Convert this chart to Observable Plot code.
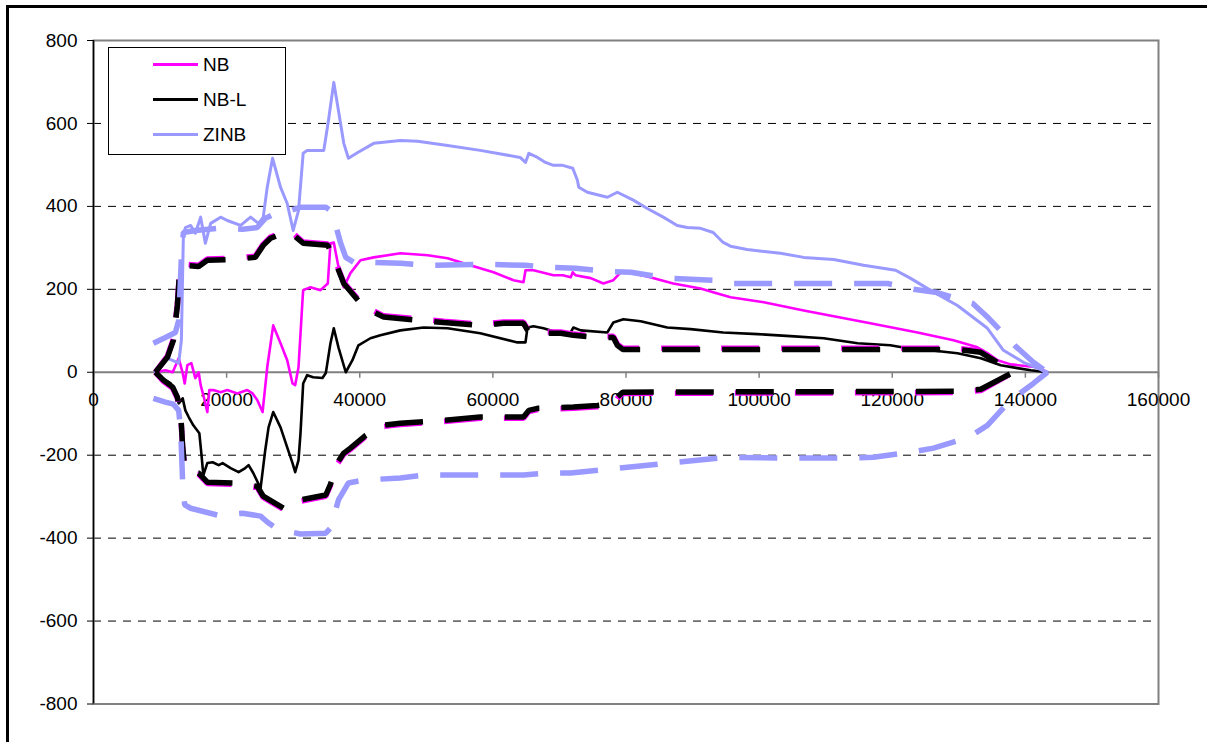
<!DOCTYPE html>
<html><head><meta charset="utf-8">
<script src="https://cdn.jsdelivr.net/npm/d3@7"></script>
<script src="https://cdn.jsdelivr.net/npm/@observablehq/plot@0.6"></script>
<style>
html,body{margin:0;padding:0;background:#fff;overflow:hidden;}
#wrap{position:relative;width:1207px;height:742px;overflow:hidden;font-family:"Liberation Sans",Arial,sans-serif;background:#fff;}
#chart{position:absolute;left:0;top:0;}
#border{position:absolute;left:6px;top:5px;width:1400px;height:1000px;border:3px solid #000;pointer-events:none;}
#legend{position:absolute;left:108px;top:47px;width:176px;height:106px;border:1px solid #000;background:#fff;}
.sw{position:absolute;left:44px;width:45px;height:0;border-top-style:solid;border-top-width:3.5px;}
.lab{position:absolute;left:94px;font-size:19px;line-height:22px;height:22px;color:#000;}
</style></head><body>
<div id="wrap"><div id="chart"></div><div id="border"></div><div id="legend"></div></div>
<script>
// ---- axis ticks ----
const xTicks = [0, 20000, 40000, 60000, 80000, 100000, 120000, 140000, 160000];
const yTicks = [-800, -600, -400, -200, 0, 200, 400, 600, 800];
const gridVals = [-600, -400, -200, 200, 400, 600];

// ---- legend ----
const seriesNames = ["NB", "NB-L", "ZINB"];
const seriesColors = ["#FF00FF", "#000000", "#9999FF"];

// ---- cumulative residuals (solid) ----
const NB_cure = [[9300,0],[10800,5],[11900,0],[12800,34],[13400,-2],[13700,-27],[14100,17],[14700,22],[15300,-14],[15800,0],[16100,-31],[16500,-55],[17100,-96],[17400,-43],[18000,-43],[19100,-48],[20100,-43],[21600,-51],[23100,-43],[23900,-51],[24600,-67],[25400,-96],[26100,12],[27000,113],[28100,70],[29100,29],[29900,-27],[30300,-31],[30800,12],[31400,174],[31500,198],[32600,205],[34100,198],[35200,214],[35600,311],[36100,313],[37100,229],[37600,205],[38600,239],[40100,270],[42100,277],[46100,287],[50200,282],[53200,275],[55600,263],[60100,241],[63100,222],[64600,217],[64900,246],[66100,246],[69100,234],[70500,234],[71700,229],[72000,241],[72400,234],[74700,227],[76600,214],[78100,222],[79200,241],[80200,241],[83200,231],[87100,214],[91200,202],[93100,193],[95700,181],[100700,169],[106700,149],[111800,133],[116700,118],[123800,96],[129200,77],[132800,60],[134300,46],[135800,29],[137800,19],[141800,12],[143300,0]];

const NBL_cure = [[9300,0],[10100,-12],[11600,-27],[12300,-51],[12800,-75],[13400,-63],[13800,-92],[14300,-108],[15000,-128],[15900,-147],[16200,-195],[16500,-248],[17100,-219],[17900,-217],[18800,-224],[19400,-219],[20600,-231],[21800,-241],[22800,-231],[23300,-224],[24000,-243],[25100,-280],[25800,-188],[26300,-133],[27000,-96],[28100,-133],[29100,-181],[29900,-219],[30300,-241],[30800,-212],[31100,-147],[31500,-27],[32100,-7],[33000,-12],[34400,-14],[34900,-2],[35600,70],[36100,106],[36800,60],[37900,0],[38900,29],[39800,65],[41600,82],[43100,89],[46100,101],[49600,108],[53200,106],[58100,94],[63700,72],[64900,72],[65200,108],[66100,111],[67600,106],[69700,96],[71700,96],[72100,108],[73200,101],[77200,96],[78100,120],[79600,128],[82200,123],[86200,108],[89700,104],[94600,96],[99800,92],[104700,87],[109700,82],[114800,70],[119700,65],[122300,58],[125700,53],[129800,46],[133300,34],[136300,17],[138800,10],[140800,5],[143300,0]];

const ZINB_cure = [[9300,0],[11100,34],[12800,22],[13200,77],[13500,328],[13800,349],[14600,354],[15300,335],[16100,374],[16800,311],[17600,359],[19100,374],[20100,366],[22100,354],[23600,374],[24800,359],[25500,374],[26100,446],[26900,516],[28100,446],[29100,407],[30000,342],[30800,390],[31500,528],[32100,535],[34600,535],[35300,607],[36100,699],[36800,631],[37600,552],[38300,516],[39700,530],[42100,552],[46100,559],[48700,557],[53200,547],[58100,535],[64100,518],[64900,506],[65400,528],[66700,518],[67900,506],[69100,499],[70500,499],[72000,492],[72700,463],[72900,446],[74200,434],[77200,422],[78700,434],[81100,415],[83200,395],[85600,374],[87700,354],[89200,349],[91200,347],[93100,337],[94600,313],[95700,304],[98200,296],[103200,287],[106700,277],[111200,272],[115700,258],[120500,246],[122700,227],[125700,198],[129800,161],[134300,106],[136700,53],[139700,24],[143300,0]];

// ---- +/- 2 sigma bounds (dashed) ----
const NB_upper = [[9300,0],[11100,39],[12000,80],[12600,164],[12900,237],[13400,261],[15800,258],[17100,273],[21000,275],[24300,280],[25500,309],[26600,326],[28500,338],[29600,340],[31500,314],[35200,309],[36100,278],[37600,217],[40600,160],[43600,136],[49100,128],[52600,123],[58100,116],[61600,121],[64600,121],[65400,99],[66700,97],[70200,97],[72100,92],[75700,87],[78100,87],[78700,68],[79500,58],[129800,58],[133300,51],[138200,0]];
const NB_lower = [[9300,0],[10500,-22],[11900,-39],[12600,-63],[13100,-102],[13400,-184],[13700,-232],[14600,-244],[15800,-246],[17100,-268],[21000,-270],[24600,-278],[25500,-302],[27000,-316],[28800,-333],[31100,-311],[34900,-299],[35600,-273],[36700,-220],[37600,-198],[38600,-186],[40900,-155],[43400,-131],[46100,-126],[52600,-119],[58100,-111],[64600,-111],[65400,-95],[66700,-90],[72100,-87],[75700,-83],[78100,-78],[78700,-63],[79500,-51],[129800,-49],[133300,-44],[138200,0]];

const NBL_upper = [[9300,0],[11100,36],[12000,77],[12600,161],[12900,234],[13400,258],[15800,255],[17100,270],[21000,272],[24300,277],[25500,306],[26600,323],[28500,335],[29600,337],[31500,311],[35200,306],[36100,275],[37600,214],[40600,157],[43600,133],[49100,125],[52600,120],[58100,113],[61600,118],[64600,118],[65400,96],[66700,94],[70200,94],[72100,89],[75700,84],[78100,84],[78700,65],[79500,55],[129800,55],[133300,48],[138200,0]];
const NBL_lower = [[9300,0],[10500,-19],[11900,-36],[12600,-60],[13100,-99],[13400,-181],[13700,-229],[14600,-241],[15800,-243],[17100,-265],[21000,-267],[24600,-275],[25500,-299],[27000,-313],[28800,-330],[31100,-308],[34900,-296],[35600,-270],[36700,-217],[37600,-195],[38600,-183],[40900,-152],[43400,-128],[46100,-123],[52600,-116],[58100,-108],[64600,-108],[65400,-92],[66700,-87],[72100,-84],[75700,-80],[78100,-75],[78700,-60],[79500,-48],[129800,-46],[133300,-41],[138200,0]];

const ZINB_upper = [[9000,70],[10800,84],[12300,96],[12800,125],[13200,275],[13500,337],[15300,342],[18800,347],[22400,345],[24600,349],[25800,371],[27300,383],[29600,390],[31100,398],[34900,398],[35600,390],[36100,371],[37100,313],[37900,277],[39100,265],[41200,265],[46100,263],[49900,258],[59200,260],[64900,258],[68200,253],[72400,251],[77400,243],[80700,241],[86400,227],[93100,222],[95700,214],[104700,214],[119300,214],[123200,200],[126500,193],[132100,166],[134500,130],[138500,63],[141200,24],[143300,0]];
const ZINB_lower = [[9000,-63],[10800,-72],[12000,-77],[12800,-92],[13100,-140],[13400,-267],[13700,-320],[14600,-328],[18800,-345],[22400,-340],[25100,-347],[26100,-361],[27600,-378],[31100,-390],[34900,-388],[35600,-376],[36800,-308],[38300,-267],[40600,-260],[46100,-255],[49600,-248],[59200,-248],[64600,-248],[68200,-243],[71700,-243],[77200,-234],[86400,-219],[95200,-205],[104700,-207],[113700,-207],[117200,-205],[122700,-193],[126200,-183],[131500,-157],[134300,-128],[137800,-67],[141200,-27],[143300,0]];

const solid = (data, color, w) => Plot.line(data, {x: d => d[0], y: d => d[1], stroke: color, strokeWidth: w, strokeLinejoin: "round"});
const dashed = (data, color, w) => Plot.line(data, {x: d => d[0], y: d => d[1], stroke: color, strokeWidth: w, strokeDasharray: "38,22", strokeLinecap: "butt", strokeLinejoin: "miter"});

const chart = Plot.plot({
  width: 1207, height: 742,
  marginLeft: 93, marginRight: 49, marginTop: 40, marginBottom: 38.5,
  x: {domain: [0, 160000], axis: null},
  y: {domain: [-800, 800]},
  style: {fontFamily: "'Liberation Sans', Arial, sans-serif", fontSize: "19px", color: "#000", background: "#fff", overflow: "visible"},
  marks: [
    Plot.ruleY(gridVals, {stroke: "#000", strokeWidth: 1, strokeDasharray: "8,7"}),
    Plot.frame({stroke: "#808080", strokeWidth: 2}),
    Plot.ruleY([0], {stroke: "#808080", strokeWidth: 2}),
    Plot.ruleX(xTicks, {x: d => d, y1: 0, y2: 0, insetBottom: -6, stroke: "#808080", strokeWidth: 1.5}),
    Plot.text(xTicks, {x: d => d, y: 0, dy: 28, text: d => String(d), fontSize: 19, fill: "#000"}),
    Plot.ruleX([0], {stroke: "#000", strokeWidth: 1.5}),
    Plot.axisY({ticks: yTicks, tickSize: 6, tickPadding: 10, tickFormat: d => String(d), fontSize: 19, label: null, stroke: "#000", fill: "#000"}),
    solid(NB_cure, seriesColors[0], 2.6),
    solid(NBL_cure, seriesColors[1], 2.6),
    solid(ZINB_cure, seriesColors[2], 3),
    dashed(NB_upper, seriesColors[0], 5.5),
    dashed(NB_lower, seriesColors[0], 5.5),
    dashed(NBL_upper, seriesColors[1], 5.5),
    dashed(NBL_lower, seriesColors[1], 5.5),
    dashed(ZINB_upper, seriesColors[2], 5.5),
    dashed(ZINB_lower, seriesColors[2], 5.5)
  ]
});
document.getElementById("chart").appendChild(chart);

// legend
const leg = document.getElementById("legend");
const rowY = [17, 52, 87];
seriesNames.forEach((name, i) => {
  const sw = document.createElement("div");
  sw.className = "sw";
  sw.style.borderTopColor = seriesColors[i];
  sw.style.top = (rowY[i] - 1.75) + "px";
  leg.appendChild(sw);
  const lab = document.createElement("div");
  lab.className = "lab";
  lab.textContent = name;
  lab.style.top = (rowY[i] - 11) + "px";
  leg.appendChild(lab);
});
</script>
</body></html>
